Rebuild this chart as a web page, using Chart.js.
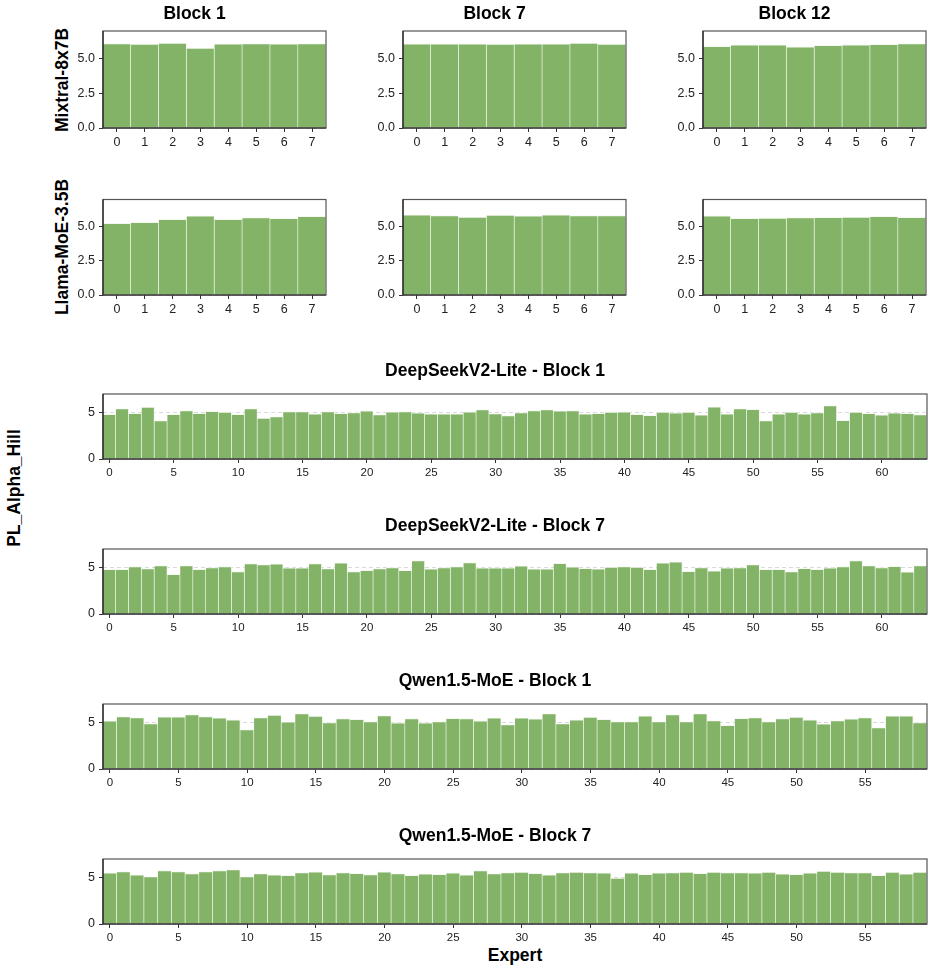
<!DOCTYPE html>
<html>
<head>
<meta charset="utf-8">
<script src="https://cdn.jsdelivr.net/npm/chart.js@4.4.0/dist/chart.umd.min.js"></script>
<style>
  body { margin: 0; background: #fff; width: 934px; height: 970px; position: relative; overflow: hidden;
         font-family: "Liberation Sans", Arial, sans-serif; }
  canvas { position: absolute; }
  .lbl { position: absolute; font-weight: bold; font-size: 17.5px; color: #000; white-space: nowrap;
         transform: translate(-50%, -50%); }
  .rot { transform: translate(-50%, -50%) rotate(-90deg); }
</style>
</head>
<body>
<div class="lbl rot" style="left:62px; top:80px;">Mixtral-8x7B</div>
<div class="lbl rot" style="left:62px; top:247px;">Llama-MoE-3.5B</div>
<div class="lbl rot" style="left:14px; top:488px;">PL_Alpha_Hill</div>
<div class="lbl" style="left:515px; top:955px;">Expert</div>

<script>
// PL_Alpha_Hill per expert
const mixtralB1  = [6.10, 6.05, 6.12, 5.77, 6.08, 6.10, 6.08, 6.10];
const mixtralB7  = [6.08, 6.08, 6.08, 6.05, 6.08, 6.08, 6.12, 6.05];
const mixtralB12 = [5.89, 6.00, 6.00, 5.86, 5.96, 6.00, 6.03, 6.10];
const llamaB1    = [5.26, 5.33, 5.55, 5.81, 5.55, 5.67, 5.62, 5.76];
const llamaB7    = [5.88, 5.83, 5.71, 5.86, 5.81, 5.88, 5.83, 5.83];
const llamaB12   = [5.81, 5.62, 5.64, 5.67, 5.69, 5.71, 5.76, 5.69];

const deepseekB1 = [4.82, 5.43, 4.93, 5.58, 4.13, 4.82, 5.22, 4.93, 5.14, 5.04,
                    4.82, 5.43, 4.42, 4.57, 5.11, 5.11, 4.86, 5.11, 4.93, 5.00,
                    5.18, 4.78, 5.07, 5.11, 4.96, 4.86, 4.86, 4.86, 5.07, 5.33,
                    4.89, 4.67, 5.00, 5.22, 5.33, 5.18, 5.22, 4.86, 4.93, 5.04,
                    5.07, 4.82, 4.71, 5.04, 4.96, 5.04, 4.75, 5.62, 4.86, 5.43,
                    5.36, 4.13, 4.86, 5.04, 4.86, 5.00, 5.76, 4.17, 5.04, 4.93,
                    4.75, 4.96, 4.93, 4.78];
const deepseekB7 = [4.82, 4.82, 5.11, 4.89, 5.22, 4.28, 5.22, 4.82, 5.00, 5.11,
                    4.57, 5.43, 5.33, 5.40, 4.96, 4.96, 5.43, 4.89, 5.51, 4.57,
                    4.71, 4.89, 5.00, 4.71, 5.76, 4.86, 5.00, 5.11, 5.54, 4.96,
                    4.96, 4.96, 5.18, 4.86, 4.86, 5.47, 5.07, 4.93, 4.86, 5.04,
                    5.11, 5.04, 4.82, 5.51, 5.62, 4.60, 5.00, 4.64, 4.96, 5.00,
                    5.33, 4.82, 4.82, 4.57, 4.93, 4.82, 4.96, 5.11, 5.76, 5.22,
                    5.00, 5.14, 4.53, 5.22];
const qwenB1 = [5.18, 5.65, 5.54, 4.89, 5.62, 5.62, 5.87, 5.65, 5.51, 5.29,
                4.24, 5.54, 5.80, 5.07, 5.98, 5.69, 5.00, 5.43, 5.36, 5.11,
                5.76, 4.96, 5.43, 4.96, 5.11, 5.47, 5.43, 5.18, 5.51, 4.78,
                5.51, 5.40, 5.98, 4.89, 5.29, 5.58, 5.36, 5.11, 5.11, 5.72,
                5.11, 5.87, 5.11, 5.98, 5.22, 4.71, 5.47, 5.54, 5.11, 5.43,
                5.58, 5.29, 4.86, 5.22, 5.40, 5.54, 4.46, 5.72, 5.72, 5.00];
const qwenB7 = [5.51, 5.65, 5.29, 5.11, 5.76, 5.65, 5.43, 5.65, 5.76, 5.87,
                5.11, 5.43, 5.29, 5.25, 5.54, 5.62, 5.32, 5.54, 5.47, 5.32,
                5.62, 5.43, 5.25, 5.40, 5.36, 5.51, 5.29, 5.76, 5.43, 5.55,
                5.60, 5.45, 5.30, 5.55, 5.60, 5.55, 5.50, 4.95, 5.50, 5.35,
                5.50, 5.55, 5.60, 5.45, 5.60, 5.55, 5.55, 5.50, 5.60, 5.40,
                5.35, 5.50, 5.70, 5.60, 5.55, 5.55, 5.25, 5.60, 5.40, 5.60];

const smallYTicks = [0, 2.5, 5];
const wideYTicks = [0, 5];

const FONT = '"Liberation Sans", Arial, sans-serif';
const BAR_COLOR = '#82b366';
const Y_W = 40, X_H = 24, TITLE_H = 21;

function expertLabels(values) {
  return values.map((v, i) => String(i));
}

// box round the plot area, darker on the left and bottom like the reference
const framePlugin = {
  id: 'frame',
  afterDatasetsDraw(chart) {
    const { ctx, chartArea: a } = chart;
    ctx.save();
    ctx.lineWidth = 1.2;
    ctx.strokeStyle = '#555';
    ctx.strokeRect(a.left, a.top, a.right - a.left, a.bottom - a.top);
    ctx.strokeStyle = '#222';
    ctx.beginPath();
    ctx.moveTo(a.left, a.top);
    ctx.lineTo(a.left, a.bottom);
    ctx.lineTo(a.right, a.bottom);
    ctx.stroke();
    ctx.restore();
  }
};

function makeChart(cfg) {
  const padTop = cfg.title ? 2 : 10;
  const titleSpace = cfg.title ? TITLE_H + cfg.gap : 0;
  const canvas = document.createElement('canvas');
  canvas.width = Y_W + cfg.w + 2;
  canvas.height = padTop + titleSpace + cfg.h + X_H;
  canvas.style.left = (cfg.x - Y_W) + 'px';
  canvas.style.top = (cfg.y - titleSpace - padTop) + 'px';
  document.body.appendChild(canvas);

  new Chart(canvas, {
    type: 'bar',
    data: {
      labels: expertLabels(cfg.values),
      datasets: [{
        data: cfg.values,
        backgroundColor: BAR_COLOR,
        borderColor: 'rgba(244,248,240,0.95)',
        borderWidth: { top: 1, right: 1, left: 0, bottom: 0 },
        borderSkipped: false,
        barPercentage: 1,
        categoryPercentage: 1
      }]
    },
    options: {
      responsive: false,
      animation: false,
      devicePixelRatio: 1,
      layout: { padding: { left: 0, right: 2, top: padTop, bottom: 0 } },
      plugins: {
        legend: { display: false },
        tooltip: { enabled: false },
        title: {
          display: !!cfg.title,
          text: cfg.title,
          color: '#000',
          font: { family: FONT, size: 17.5, weight: 'bold', lineHeight: 1.2 },
          padding: { top: 0, bottom: cfg.gap || 0 }
        }
      },
      scales: {
        x: {
          offset: true,
          grid: { offset: false, drawOnChartArea: false, tickLength: 4, tickColor: '#333' },
          border: { display: false },
          ticks: { autoSkip: false, maxRotation: 0, padding: 3, color: '#222',
                   font: { family: FONT, size: cfg.xFont } },
          afterBuildTicks: s => { s.ticks = s.ticks.filter(t => t.value % cfg.step === 0); },
          afterFit: s => { s.height = X_H; }
        },
        y: {
          min: 0,
          max: 7,
          grid: { color: '#d9d9d9', tickColor: '#333', tickLength: 4 },
          border: { display: false, dash: [4, 3] },
          ticks: { padding: 4, color: '#222', font: { family: FONT, size: cfg.yFont },
                   callback: v => cfg.fmt(v) },
          afterBuildTicks: s => { s.ticks = cfg.yTicks.map(v => ({ value: v })); },
          afterFit: s => { s.width = Y_W; }
        }
      }
    },
    plugins: [framePlugin]
  });
}

const oneDecimal = v => v.toFixed(1);
const plain = v => String(v);

// top grid: 2 models x 3 blocks
const smallCols = [103, 403, 703];
const smallRows = [
  { y: 31,  sets: [mixtralB1, mixtralB7, mixtralB12], titles: ['Block 1', 'Block 7', 'Block 12'] },
  { y: 198, sets: [llamaB1, llamaB7, llamaB12], titles: [null, null, null] }
];
smallRows.forEach(row => {
  row.sets.forEach((vals, j) => {
    makeChart({ x: smallCols[j], y: row.y, w: 223, h: 97, values: vals, title: row.titles[j],
                gap: 6, step: 1, yTicks: smallYTicks, fmt: oneDecimal, xFont: 12.5, yFont: 12.5 });
  });
});

// wide panels
const wide = [
  { y: 394, values: deepseekB1, title: 'DeepSeekV2-Lite - Block 1' },
  { y: 549, values: deepseekB7, title: 'DeepSeekV2-Lite - Block 7' },
  { y: 704, values: qwenB1, title: 'Qwen1.5-MoE - Block 1' },
  { y: 859, values: qwenB7, title: 'Qwen1.5-MoE - Block 7' }
];
wide.forEach(p => {
  makeChart({ x: 103, y: p.y, w: 824, h: 65, values: p.values, title: p.title,
              gap: 12, step: 5, yTicks: wideYTicks, fmt: plain, xFont: 11.5, yFont: 12.5 });
});
</script>
</body>
</html>
